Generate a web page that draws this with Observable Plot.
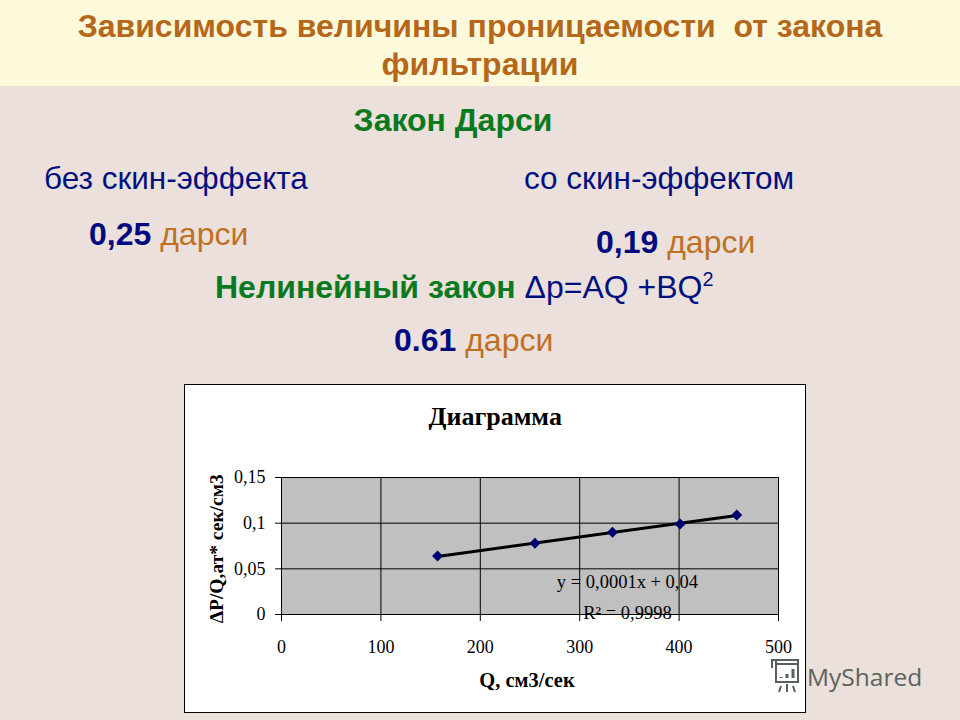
<!DOCTYPE html>
<html><head><meta charset="utf-8">
<script src="https://cdn.jsdelivr.net/npm/d3@7"></script>
<script src="https://cdn.jsdelivr.net/npm/@observablehq/plot@0.6"></script>
<style>
html,body{margin:0;padding:0;width:960px;height:720px;overflow:hidden;background:#ebe0dc;font-family:"Liberation Sans",sans-serif}
#head{position:absolute;left:0;top:0;width:960px;height:86px;background:#fdfadb}
.t{position:absolute;white-space:pre;line-height:1}
.c{transform:translateX(-50%)}
.navy{color:#00107f}.org{color:#c0701f}.grn{color:#0a7a1e}
b.navy{color:#000a80}
#card{position:absolute;left:184px;top:384px;width:620px;height:327px;background:#fff;border:1px solid #000}
#card svg{position:absolute;left:0;top:0}
sup{font-size:.62em;line-height:0;vertical-align:.62em}
</style></head><body>
<div id="head"></div>
<div class="t c" style="left:480px;top:8px;font:bold 32px 'Liberation Sans';color:#b5671a">Зависимость величины проницаемости  от закона</div>
<div class="t c" style="left:480px;top:46px;font:bold 32px 'Liberation Sans';color:#b5671a">фильтрации</div>
<div class="t c grn" style="left:453px;top:102px;font:bold 32px 'Liberation Sans'">Закон Дарси</div>
<div class="t navy" style="left:44px;top:163px;font-size:31.5px">без скин-эффекта</div>
<div class="t navy" style="left:524px;top:163px;font-size:31.5px">со скин-эффектом</div>
<div class="t" style="left:89px;top:218px;font-size:32px"><b class="navy">0,25</b> <span class="org">дарси</span></div>
<div class="t" style="left:596px;top:226px;font-size:32px"><b class="navy">0,19</b> <span class="org">дарси</span></div>
<div class="t" style="left:215px;top:271px;font-size:32px"><b class="grn">Нелинейный закон</b> <span class="navy">Δp=AQ +BQ<sup>2</sup></span></div>
<div class="t" style="left:394px;top:324px;font-size:32px"><b class="navy">0.61</b> <span class="org">дарси</span></div>
<div id="card"></div>
<svg style="position:absolute;left:767px;top:656px" width="36" height="38" viewBox="0 0 36 38" fill="none" stroke="#56625a" stroke-width="2">
<path d="M5 12V4h26v4H9M9 4v22h22V8"/><path d="M14 30l-2 6M20 28v8M26 30l2 6"/>
<path d="M14 22v-1M20 22v-4M26 22v-9" stroke-width="3"/></svg>
<div class="t" style="left:807px;top:660px;font:24.5px 'Open Sans';color:#5b635d">MyShared</div>
<script>
const pointQ = [157, 255, 333, 401, 458];
const pointDP = [0.064, 0.078, 0.09, 0.099, 0.109];
const trendQ = [157, 458];
const trendDP = [0.0635, 0.1085];
const xTicks = [0, 100, 200, 300, 400, 500];
const yTicks = [0, 0.05, 0.1, 0.15];
const yLabels = ["0", "0,05", "0,1", "0,15"];
const chartTitle = "Диаграмма";
const xTitle = "Q, см3/сек";
const yTitle = "ΔP/Q,ат* сек/см3";
const equation = "y = 0,0001x + 0,04";
const rSquared = "R² = 0,9998";

const serif = "'Liberation Serif',serif";
const chart = Plot.plot({
  width: 620, height: 327,
  marginLeft: 96, marginRight: 27, marginTop: 92, marginBottom: 98,
  style: {background: "transparent", fontFamily: serif, fontSize: "15px", color: "#000", overflow: "visible"},
  x: {domain: [0, 500], ticks: xTicks, label: null, tickSize: 0},
  y: {domain: [0, 0.15], ticks: yTicks, label: null, tickSize: 0},
  marks: [
    Plot.frame({fill: "#c0c0c0", stroke: null}),
    Plot.ruleX(xTicks, {stroke: "#000", strokeWidth: 1}),
    Plot.ruleY(yTicks, {stroke: "#000", strokeWidth: 1}),
    Plot.axisX({ticks: xTicks, tickSize: 7, tickPadding: 19, stroke: "#000", tickFormat: d => d, label: null, fontSize: 18}),
    Plot.axisY({ticks: yTicks, tickSize: 6, tickPadding: 10, stroke: "#000", tickFormat: d => yLabels[yTicks.indexOf(d)], label: null, fontSize: 18}),
    Plot.line(trendQ.map((q, i) => ({q, p: trendDP[i]})), {x: "q", y: "p", stroke: "#000", strokeWidth: 3}),
    Plot.dot(pointQ.map((q, i) => ({q, p: pointDP[i]})), {x: "q", y: "p", symbol: "diamond2", r: 4, fill: "#000070", stroke: "#000070"}),
    Plot.text([equation], {x: 348, y: 0.036, text: d => d, fontSize: 18.5, fill: "#000"}),
    Plot.text([rSquared], {x: 348, y: 0.0015, text: d => d, fontSize: 18.5, fill: "#000"}),
    Plot.text([chartTitle], {frameAnchor: "top", dy: -71, x: 215, text: d => d, fontSize: 26, fontWeight: "bold", fill: "#000"}),
    Plot.text([xTitle], {frameAnchor: "bottom", dy: 72, x: 247, text: d => d, fontSize: 20.5, fontWeight: "bold", fill: "#000"}),
    Plot.text([yTitle], {frameAnchor: "left", dx: -65, y: 0.072, rotate: -90, textAnchor: "middle", text: d => d, fontSize: 19.5, fontWeight: "bold", fill: "#000"})
  ]
});
document.getElementById("card").appendChild(chart);
</script>
</body></html>
